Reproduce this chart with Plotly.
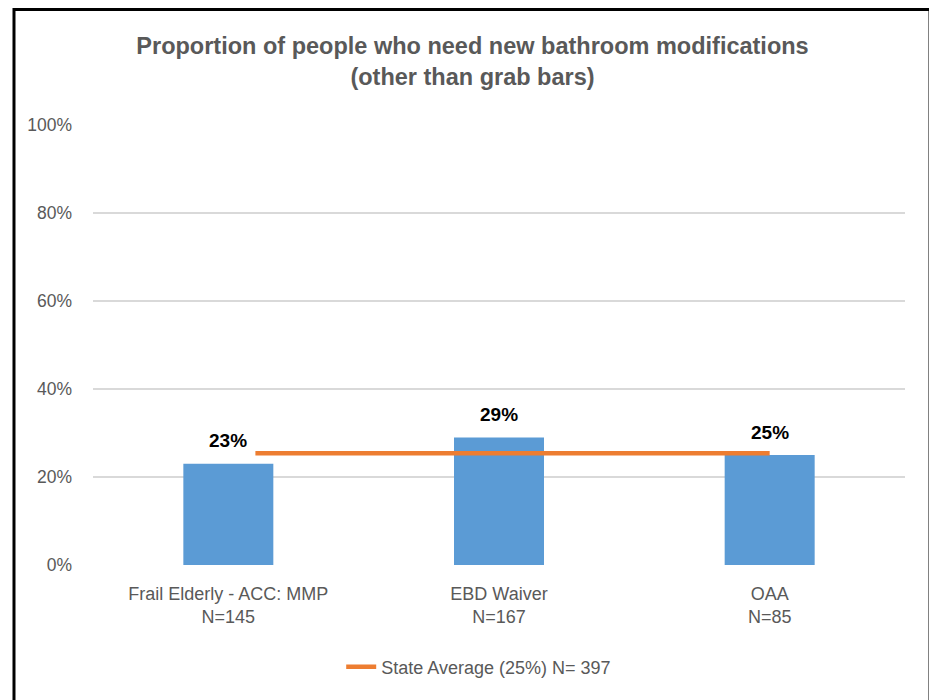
import plotly.graph_objects as go

categories = ["Frail Elderly - ACC: MMP", "EBD Waiver", "OAA"]
n_labels = ["N=145", "N=167", "N=85"]
values = [0.23, 0.29, 0.25]
value_labels = ["23%", "29%", "25%"]
state_avg = 0.254
state_avg_x = [0.1, 2.0]
legend_name = "State Average (25%) N= 397"
y_ticks = [0, 0.2, 0.4, 0.6, 0.8, 1.0]
y_tick_text = ["0%", "20%", "40%", "60%", "80%", "100%"]

FONT = "Liberation Sans"
GRAY = "#595959"

x_pos = list(range(len(categories)))

fig = go.Figure()
fig.add_trace(go.Bar(
    x=x_pos, y=values, width=0.3325,
    marker=dict(color="#5B9BD5", line=dict(width=0)),
    showlegend=False, hoverinfo="skip",
))
fig.add_trace(go.Scatter(
    x=state_avg_x, y=[state_avg, state_avg], mode="lines",
    line=dict(color="#ED7D31", width=4.5),
    name=legend_name, showlegend=True,
))

annotations = [
    dict(x=xp, y=v, text=t, showarrow=False, xref="x", yref="y",
         yanchor="middle", yshift=23,
         font=dict(family=FONT, size=19, color="#000000", weight="bold"))
    for xp, v, t in zip(x_pos, values, value_labels)
]

# Frame: left, top and right sides (bottom edge lies outside the view)
frame_path = "M -0.0973 -0.33 L -0.0973 1.2625 L 1.0308 1.2625 L 1.0308 -0.33"

fig.update_layout(
    width=929, height=692,
    margin=dict(l=85, r=32, t=117, b=135),
    paper_bgcolor="white", plot_bgcolor="white",
    title=dict(
        text="Proportion of people who need new bathroom modifications<br>(other than grab bars)",
        x=0.5, xanchor="center", y=0.9335, yanchor="middle",
        font=dict(family=FONT, size=23.5, color=GRAY, weight="bold"),
    ),
    xaxis=dict(
        range=[-0.5, 2.5], tickvals=x_pos,
        ticktext=[f"{c}<br>{n}" for c, n in zip(categories, n_labels)],
        tickfont=dict(family=FONT, size=18, color=GRAY),
        showgrid=False, zeroline=False, showline=False, ticks="",
        ticklabelstandoff=16,
    ),
    yaxis=dict(
        range=[0, 1.0], tickvals=y_ticks, ticktext=y_tick_text,
        tickfont=dict(family=FONT, size=17.5, color=GRAY),
        showgrid=True, gridcolor="#D9D9D9", gridwidth=1.5,
        zeroline=False, showline=False, ticks="", ticklabelstandoff=20,
    ),
    legend=dict(
        orientation="h", x=0.475, xanchor="center", y=-0.2318, yanchor="middle",
        font=dict(family=FONT, size=18, color=GRAY),
    ),
    annotations=annotations,
    shapes=[dict(
        type="path", xref="paper", yref="paper", path=frame_path,
        line=dict(color="black", width=3), layer="above",
    )],
)

fig.write_html("out.html")
